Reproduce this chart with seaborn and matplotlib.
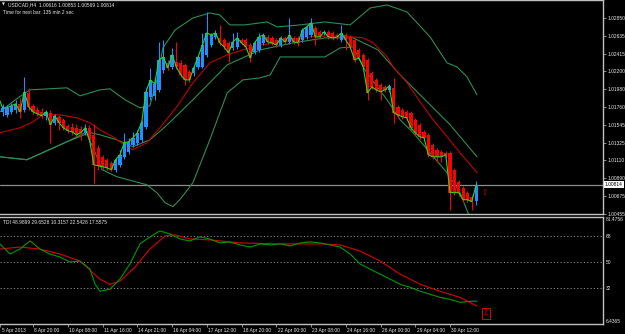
import matplotlib
matplotlib.use("Agg")
import matplotlib.pyplot as plt
import matplotlib.transforms as mtransforms
import numpy as np
import pandas as pd
import seaborn as sns

# ---------------- data ----------------
opens = [1.01693, 1.01705, 1.01669, 1.01705, 1.01730, 1.01803, 1.01730, 1.01938, 1.01779, 1.01730,
         1.01705, 1.01657, 1.01693, 1.01571, 1.01644, 1.01608, 1.01534, 1.01522, 1.01510, 1.01498,
         1.01449, 1.01510, 1.01424, 1.01265, 1.01155, 1.01119, 1.01082, 1.00997, 1.01058, 1.01155,
         1.01217, 1.01302, 1.01327, 1.01363, 1.01522, 1.01889, 1.01901, 1.01974, 1.02219, 1.02304,
         1.02255, 1.02316, 1.02304, 1.02280, 1.02194, 1.02182, 1.02255, 1.02255, 1.02402, 1.02524,
         1.02622, 1.02610, 1.02585, 1.02549, 1.02488, 1.02500, 1.02585, 1.02585, 1.02524, 1.02439,
         1.02463, 1.02549, 1.02622, 1.02610, 1.02585, 1.02524, 1.02610, 1.02561, 1.02610, 1.02610,
         1.02585, 1.02622, 1.02646, 1.02732, 1.02683, 1.02671, 1.02683, 1.02671, 1.02646, 1.02585,
         1.02646, 1.02622, 1.02585, 1.02463, 1.02402, 1.02341, 1.02182, 1.02096, 1.02035, 1.02011,
         1.01974, 1.01999, 1.01767, 1.01730, 1.01705, 1.01693, 1.01608, 1.01547, 1.01461, 1.01424,
         1.01302, 1.01241, 1.01217, 1.01204, 1.01204, 1.00997, 1.00850, 1.00777, 1.00716, 1.00667,
         1.00616]
highs = [1.01913, 1.01803, 1.01791, 1.01815, 1.01852, 1.01877, 1.02133, 1.01999, 1.01803, 1.01767,
         1.01754, 1.01730, 1.01730, 1.01681, 1.01669, 1.01632, 1.01559, 1.01571, 1.01559, 1.01534,
         1.01559, 1.01547, 1.01559, 1.01302, 1.01180, 1.01143, 1.01107, 1.01143, 1.01241, 1.01449,
         1.01388, 1.01461, 1.01485, 1.01608, 1.01999, 1.02243, 1.02096, 1.02561, 1.02585, 1.02341,
         1.02488, 1.02561, 1.02341, 1.02304, 1.02219, 1.02267, 1.02402, 1.02671, 1.02927, 1.02671,
         1.02707, 1.02769, 1.02610, 1.02573, 1.02671, 1.02683, 1.02610, 1.02610, 1.02549, 1.02573,
         1.02671, 1.02671, 1.02646, 1.02634, 1.02610, 1.02634, 1.02634, 1.02854, 1.02634, 1.02634,
         1.02732, 1.02769, 1.02854, 1.02756, 1.02707, 1.02707, 1.02707, 1.02695, 1.02671, 1.02769,
         1.02671, 1.02646, 1.02610, 1.02488, 1.02426, 1.02365, 1.02206, 1.02121, 1.02060, 1.02035,
         1.02048, 1.02121, 1.01791, 1.01754, 1.01730, 1.01718, 1.01632, 1.01571, 1.01485, 1.01449,
         1.01327, 1.01265, 1.01241, 1.01229, 1.01229, 1.01021, 1.00874, 1.00801, 1.00740, 1.00691,
         1.00853]
lows = [1.01669, 1.01657, 1.01644, 1.01681, 1.01693, 1.01632, 1.01705, 1.01730, 1.01681, 1.01657,
        1.01632, 1.01608, 1.01327, 1.01547, 1.01485, 1.01485, 1.01449, 1.01424, 1.01400, 1.01363,
        1.01424, 1.01339, 1.00838, 1.00997, 1.01009, 1.00997, 1.00984, 1.00972, 1.01033, 1.01131,
        1.01192, 1.01278, 1.01302, 1.01339, 1.01498, 1.01852, 1.01852, 1.01950, 1.02182, 1.02219,
        1.02231, 1.02231, 1.02133, 1.02035, 1.02072, 1.02145, 1.02231, 1.02243, 1.02377, 1.02500,
        1.02597, 1.02524, 1.02475, 1.02316, 1.02463, 1.02475, 1.02524, 1.02475, 1.02316, 1.02414,
        1.02439, 1.02524, 1.02536, 1.02524, 1.02500, 1.02500, 1.02536, 1.02536, 1.02536, 1.02512,
        1.02561, 1.02597, 1.02622, 1.02524, 1.02597, 1.02646, 1.02597, 1.02585, 1.02597, 1.02561,
        1.02463, 1.02475, 1.02316, 1.02341, 1.02231, 1.01852, 1.01987, 1.01950, 1.01852, 1.01950,
        1.01950, 1.01571, 1.01644, 1.01620, 1.01608, 1.01485, 1.01424, 1.01375, 1.01363, 1.01155,
        1.01131, 1.01094, 1.01094, 1.01155, 1.00508, 1.00691, 1.00679, 1.00606, 1.00606, 1.00508,
        1.00569]
closes = [1.01889, 1.01754, 1.01754, 1.01779, 1.01803, 1.01705, 1.01950, 1.01767, 1.01705, 1.01681,
          1.01657, 1.01705, 1.01547, 1.01657, 1.01571, 1.01510, 1.01473, 1.01461, 1.01424, 1.01449,
          1.01510, 1.01363, 1.01058, 1.01045, 1.01033, 1.01021, 1.00997, 1.01119, 1.01180, 1.01327,
          1.01339, 1.01388, 1.01449, 1.01571, 1.01950, 1.02096, 1.02048, 1.02341, 1.02377, 1.02243,
          1.02402, 1.02255, 1.02158, 1.02096, 1.02096, 1.02243, 1.02377, 1.02524, 1.02671, 1.02646,
          1.02671, 1.02549, 1.02500, 1.02426, 1.02561, 1.02610, 1.02549, 1.02500, 1.02365, 1.02549,
          1.02622, 1.02646, 1.02561, 1.02549, 1.02524, 1.02610, 1.02561, 1.02646, 1.02561, 1.02549,
          1.02707, 1.02744, 1.02793, 1.02622, 1.02622, 1.02683, 1.02622, 1.02610, 1.02622, 1.02671,
          1.02585, 1.02500, 1.02341, 1.02365, 1.02255, 1.01938, 1.02011, 1.01974, 1.01950, 1.01974,
          1.02023, 1.01693, 1.01669, 1.01644, 1.01632, 1.01510, 1.01449, 1.01400, 1.01388, 1.01180,
          1.01155, 1.01155, 1.01155, 1.01180, 1.00716, 1.00716, 1.00716, 1.00630, 1.00630, 1.00606,
          1.00814]

# Bollinger upper band (sampled: bar position, price)
bb_up_bar = [0.4, 3.9, 7.3, 15.8, 18.8, 23.4, 25.7, 29.2, 32.6, 34.9, 36.5, 37.9, 40.7, 44.8, 48.7,
             51.0, 53.3, 56.8, 61.9, 64.2, 69.5, 75.2, 81.0, 85.6, 89.5, 94.1, 99.4, 103.3, 105.6,
             107.9, 110.2]
bb_up_val = [1.01705, 1.01852, 1.01974, 1.01999, 1.01901, 1.01974, 1.01987, 1.01852, 1.01754, 1.01779,
             1.02096, 1.02488, 1.02707, 1.02854, 1.02915, 1.02891, 1.02769, 1.02769, 1.02805, 1.02744,
             1.02769, 1.02805, 1.02769, 1.02976, 1.03013, 1.02927, 1.02622, 1.02304, 1.02255, 1.02133,
             1.01913]
# Bollinger lower band
bb_lo_bar = [0.4, 6.6, 15.8, 20.4, 22.5, 23.9, 27.3, 34.2, 36.5, 38.4, 40.2, 41.8, 44.8, 48.7, 52.7,
             56.3, 60.3, 62.6, 64.9, 75.2, 78.7, 81.7, 84.4, 87.4, 89.5, 92.5, 95.5, 99.4, 103.3,
             106.3, 108.1, 109.7]
bb_lo_val = [1.01155, 1.01119, 1.01339, 1.01437, 1.01180, 1.00997, 1.00911, 1.00813, 1.00716, 1.00593,
             1.00545, 1.00630, 1.00838, 1.01363, 1.01938, 1.02096, 1.02121, 1.02158, 1.02377, 1.02377,
             1.02488, 1.02500, 1.02219, 1.01999, 1.01852, 1.01608, 1.01449, 1.01204, 1.00960, 1.00716,
             1.00471, 1.00325]
# red moving average (band middle)
ma_bar = [0.4, 5.0, 8.0, 10.3, 14.2, 18.1, 21.1, 23.4, 26.4, 29.6, 31.0, 34.2, 37.2, 41.1, 44.8, 48.7,
          52.7, 56.3, 60.3, 64.2, 67.9, 71.8, 75.2, 81.7, 84.0, 86.3, 89.5, 90.9, 94.1, 97.1, 100.1,
          103.3, 106.3, 110.2]
ma_val = [1.01449, 1.01510, 1.01583, 1.01669, 1.01669, 1.01632, 1.01571, 1.01485, 1.01400, 1.01278,
          1.01241, 1.01327, 1.01510, 1.01767, 1.02060, 1.02304, 1.02402, 1.02463, 1.02524, 1.02549,
          1.02585, 1.02622, 1.02634, 1.02622, 1.02610, 1.02549, 1.02377, 1.02255, 1.02060, 1.01828,
          1.01608, 1.01400, 1.01204, 1.00960]
# slow moving average (dark green)
slow_bar = [0.4, 6.6, 15.8, 20.4, 23.4, 27.3, 31.0, 34.9, 38.4, 44.8, 52.7, 60.3, 67.9, 75.2, 81.7,
            87.4, 92.5, 99.4, 104.0, 110.2]
slow_val = [1.01155, 1.01119, 1.01339, 1.01461, 1.01424, 1.01363, 1.01278, 1.01363, 1.01522, 1.01852,
            1.02280, 1.02463, 1.02549, 1.02610, 1.02610, 1.02463, 1.02158, 1.01791, 1.01547, 1.01155]

# TDI sub-window
tdi_green_bar = [0.4, 2.7, 5.0, 7.3, 9.6, 11.9, 14.2, 16.5, 18.8, 21.1, 22.3, 23.4, 25.7, 28.0, 30.3,
                 32.6, 34.9, 37.2, 39.5, 41.8, 44.1, 46.4, 48.7, 51.0, 53.3, 55.6, 58.0, 60.3, 62.6,
                 64.9, 67.2, 69.5, 71.8, 74.1, 76.4, 78.7, 81.0, 83.3, 85.6, 87.9, 90.2, 92.5, 94.8,
                 97.1, 99.4, 101.7, 104.0, 106.3, 108.6, 110.2]
tdi_green_val = [62.6, 55.5, 59.0, 64.7, 59.0, 55.5, 53.4, 49.9, 50.6, 44.9, 34.3, 29.4, 30.8, 37.9, 48.5,
                 62.6, 67.5, 71.7, 69.6, 66.1, 64.7, 67.5, 66.1, 63.3, 64.0, 61.9, 60.4, 62.6, 61.9,
                 62.6, 61.2, 63.3, 64.0, 63.3, 61.9, 60.4, 55.5, 48.5, 44.9, 41.4, 37.9, 34.3, 32.2,
                 29.4, 27.3, 25.1, 23.7, 21.6, 22.3, 22.5]
tdi_red_bar = [0.4, 5.0, 9.6, 14.2, 18.8, 23.4, 25.7, 28.0, 31.5, 34.9, 38.4, 40.7, 44.1, 48.7, 55.6,
               64.9, 74.1, 78.7, 83.3, 87.9, 92.5, 97.1, 101.7, 106.3, 110.2]
tdi_red_val = [59.0, 60.4, 59.0, 55.5, 50.6, 37.9, 34.3, 36.5, 46.3, 59.0, 68.2, 68.9, 66.1, 65.4, 63.3,
               62.6, 62.6, 61.9, 57.6, 50.6, 41.4, 34.3, 29.4, 25.1, 19.0]
tdi_levels = [68, 50, 32]

price_ticks = [1.02850, 1.02635, 1.02415, 1.02200, 1.01980, 1.01760, 1.01545, 1.01325, 1.01110,
               1.00890, 1.00675, 1.00455]
date_tick_bar = [0.5, 8, 16, 24, 32, 40, 48, 56, 64, 72, 80, 88, 96, 104]
date_labels = ['5 Apr 2013', '8 Apr 20:00', '10 Apr 08:00', '11 Apr 16:00', '14 Apr 21:00',
               '16 Apr 04:00', '17 Apr 12:00', '18 Apr 20:00', '22 Apr 00:00', '23 Apr 08:00',
               '24 Apr 16:00', '26 Apr 00:00', '29 Apr 04:00', '30 Apr 12:00']
current_price = 1.00814
header = "USDCAD,H4  1.00616 1.00853 1.00569 1.00814"
timer_text = "Time for next bar: 135 min 2 sec"
tdi_header = "TDI 48.9899 29.6528 10.3157 22.5428 17.5575"

# ---------------- style ----------------
sns.set_theme(style="dark", rc={"axes.facecolor": "black", "figure.facecolor": "black",
                                "axes.grid": False})
plt.rcParams['font.family'] = ['Liberation Sans', 'DejaVu Sans']

BLUE = '#1E90FF'
RED = '#FF0000'
FRAME = '#c0c0c0'
TXT = '#e8e8e8'
FS = 3.5

W, H = 625, 334
fig = plt.figure(figsize=(W / 100, H / 100), dpi=100)


def frac(x0, y0, x1, y1):
    return [x0 / W, 1 - y1 / H, (x1 - x0) / W, (y1 - y0) / H]


ax = fig.add_axes(frac(0, 0, 603, 214))
ax2 = fig.add_axes(frac(0, 217, 603, 324))

for a in (ax, ax2):
    a.set_facecolor('black')
    a.grid(False)
    for side in ('top', 'right', 'bottom'):
        a.spines[side].set_color(FRAME)
        a.spines[side].set_linewidth(1.0)
    a.spines['left'].set_visible(False)
    a.set_xlim(0.4, 139.2)

ax.set_ylim(1.004576, 1.030737)
ax2.set_ylim(6.4365, 81.4756)

# ---------------- main window ----------------
o = np.array(opens); c = np.array(closes); h = np.array(highs); l = np.array(lows)
idx = np.arange(len(c))
up = c >= o
cols = np.where(up, BLUE, RED)
ax.vlines(idx, l, h, colors=cols, linewidth=0.75, zorder=3)
body = np.maximum(np.abs(c - o), 0.00009)
ax.bar(idx, body, bottom=np.minimum(o, c), width=0.74, color=cols, linewidth=0, zorder=4)

ax.axhline(current_price, color='#8c8c8c', linewidth=0.9, zorder=1)

sns.lineplot(x=bb_up_bar, y=bb_up_val, ax=ax, color='#2E8B57', linewidth=0.8, estimator=None,
             sort=False, legend=False, zorder=2)
sns.lineplot(x=bb_lo_bar, y=bb_lo_val, ax=ax, color='#2E8B57', linewidth=0.8, estimator=None,
             sort=False, legend=False, zorder=2)
sns.lineplot(x=slow_bar, y=slow_val, ax=ax, color='#2E8B57', linewidth=0.8, estimator=None,
             sort=False, legend=False, zorder=2)
sns.lineplot(x=ma_bar, y=ma_val, ax=ax, color='#C00000', linewidth=0.8, estimator=None,
             sort=False, legend=False, zorder=2)
sns.lineplot(x=idx, y=closes, ax=ax, color='#22DD22', linewidth=0.8, estimator=None,
             sort=False, legend=False, zorder=5)

ax.set_xticks([])
ax.yaxis.tick_right()
ax.set_yticks(price_ticks)
ax.set_yticklabels([f"{p:.5f}" for p in price_ticks])
ax.tick_params(axis='y', colors=FRAME, labelcolor=TXT, labelsize=FS, length=2, width=0.5,
               pad=1.2, direction='out', right=True, left=False)
ax.set_ylabel('')
ax.set_xlabel('')

# current price box
ax.annotate(f"{current_price:.5f}", xy=(1.0, current_price),
            xycoords=mtransforms.blended_transform_factory(ax.transAxes, ax.transData),
            xytext=(1.2, 0), textcoords='offset points', ha='left', va='center',
            fontsize=FS, color='black', annotation_clip=False,
            bbox=dict(boxstyle='square,pad=0.2', fc='white', ec='white', lw=0))

# signal arrow
ax.text(112.1, 1.00714, '\u21e7', color='#dd0000', fontsize=5.5, ha='center', va='center',
        family=['DejaVu Sans'])

# headers
fig.text(2 / W, 1 - 5 / H, '\u25bc', color=TXT, fontsize=2.6, ha='left', va='center',
         family=['DejaVu Sans'])
fig.text(8 / W, 1 - 5 / H, header, color=TXT, fontsize=FS, ha='left', va='center')
fig.text(3 / W, 1 - 12.5 / H, timer_text, color=TXT, fontsize=FS, ha='left', va='center')

# ---------------- TDI window ----------------
for lv in tdi_levels:
    ax2.axhline(lv, color='#9a9a9a', linewidth=0.6, linestyle=(0, (1.5, 2.5)), zorder=1)
sns.lineplot(x=tdi_red_bar, y=tdi_red_val, ax=ax2, color='#DD0000', linewidth=0.8,
             estimator=None, sort=False, legend=False, zorder=3)
sns.lineplot(x=tdi_green_bar, y=tdi_green_val, ax=ax2, color='#009900', linewidth=0.8,
             estimator=None, sort=False, legend=False, zorder=4)

ax2.text(112.3, 13.6, '\u21e9', color='#dd0000', fontsize=5.5, ha='center', va='center',
         family=['DejaVu Sans'],
         bbox=dict(boxstyle='square,pad=0.15', fc='black', ec='#dd0000', lw=0.7))

fig.text(3 / W, 1 - 222 / H, tdi_header, color=TXT, fontsize=FS, ha='left', va='center')

ax2.yaxis.tick_right()
tdi_ticks = [81.4756] + tdi_levels + [6.4365]
ax2.set_yticks(tdi_ticks)
ax2.set_yticklabels(['81.4756', '68', '50', '32', '6.4365'])
ax2.tick_params(axis='y', colors=FRAME, labelcolor=TXT, labelsize=FS, length=0, pad=2,
                right=True, left=False)
yl = ax2.get_yticklabels()
yl[0].set_va('top')
yl[-1].set_va('bottom')

ax2.set_xticks(date_tick_bar)
ax2.set_xticklabels(date_labels)
ax2.tick_params(axis='x', colors=FRAME, labelcolor=TXT, labelsize=FS, length=2.2, width=0.5,
                pad=0.8, direction='out', bottom=True)
offset = mtransforms.ScaledTranslation(1.2 / 100, 0, fig.dpi_scale_trans)
for lbl in ax2.get_xticklabels():
    lbl.set_ha('left')
    lbl.set_transform(lbl.get_transform() + offset)
ax2.set_ylabel('')
ax2.set_xlabel('')

fig.savefig('out.png', dpi=100, facecolor='black')
